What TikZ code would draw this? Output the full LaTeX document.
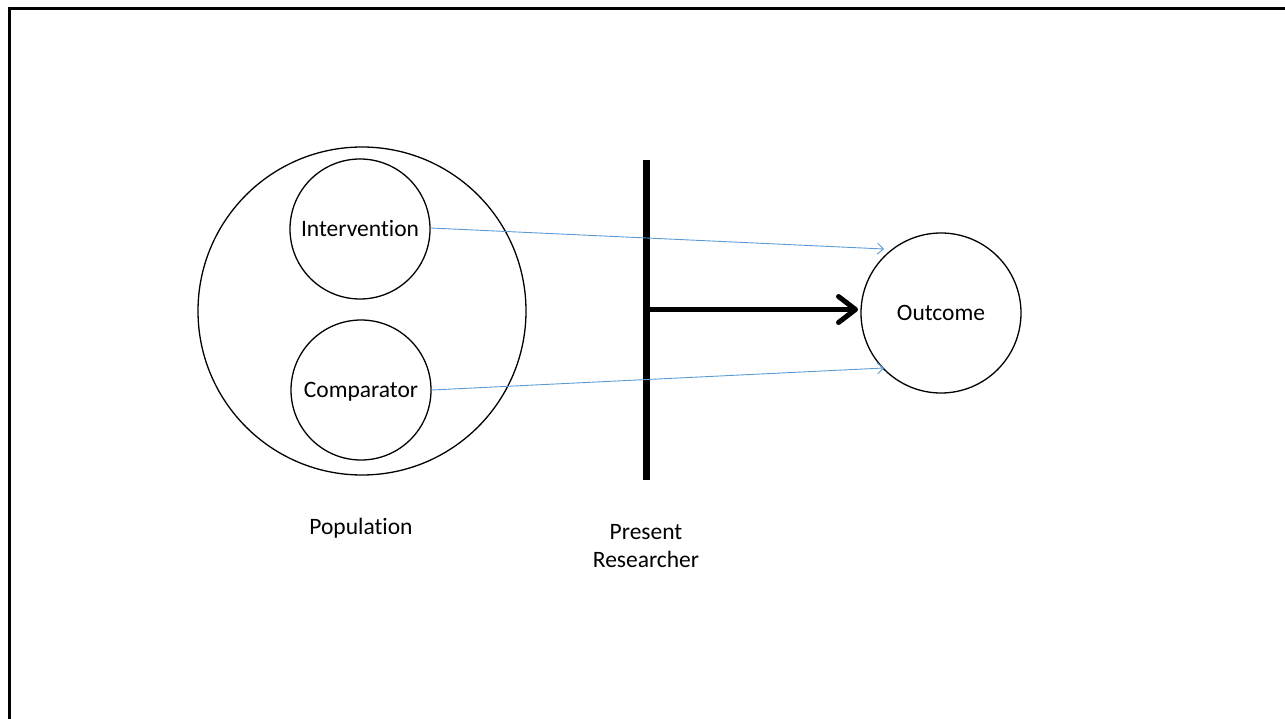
\documentclass[tikz,border=0pt]{standalone}
\usepackage{fontspec}
\setmainfont[Ligatures=NoCommon]{Carlito}
\usetikzlibrary{arrows.meta}
\definecolor{linkblue}{RGB}{91,155,213}
\begin{document}
\begin{tikzpicture}[x=1pt,y=-1pt,
  every node/.style={font=\fontsize{23.5}{28}\selectfont, inner sep=0pt},
  ring/.style={circle, draw=black, line width=1.3pt, minimum size=#1, text height=15pt, text depth=0pt},
  caption/.style={align=center},
  weak/.style={draw=linkblue, line width=0.9pt, -{Straight Barb[length=6pt,width=11pt,line width=0.9pt]}},
  strong/.style={draw=black, line width=5pt, -{Straight Barb[length=17pt,width=26pt,line cap=round,line join=round]}}
]
\useasboundingbox (0,0) rectangle (1285,719);
% frame edges
\draw[line width=3pt] (9,719) -- (9,9) -- (1285,9);

% population and its groups
\node[ring=328pt] (pop) at (362,311) {};
\node[ring=140pt] (int) at (360,229) {Intervention};
\node[ring=140pt] (comp) at (361,390) {Comparator};
\node[caption, text height=15pt, text depth=0pt] (poplab) at (361,527) {Population};

% outcome
\node[ring=160pt] (out) at (941,313) {Outcome};

% researcher bar
\coordinate (bartop) at (646.5,160);
\coordinate (barbot) at (646.5,480);
\draw[line width=7pt] (bartop) -- (barbot);
\node[caption] (res) at (646,546) {Present\\Researcher};

% connectors
\coordinate (barmid) at (650,309.5);
\coordinate (outleft) at (858,309.5);
\draw[strong] (barmid) -- (outleft);
\coordinate (inttip) at (884,249);
\coordinate (comptip) at (884,368);
\draw[weak] (int.east) ++(0,-1) -- (inttip);
\draw[weak] (comp.east) -- (comptip);
\end{tikzpicture}
\end{document}
